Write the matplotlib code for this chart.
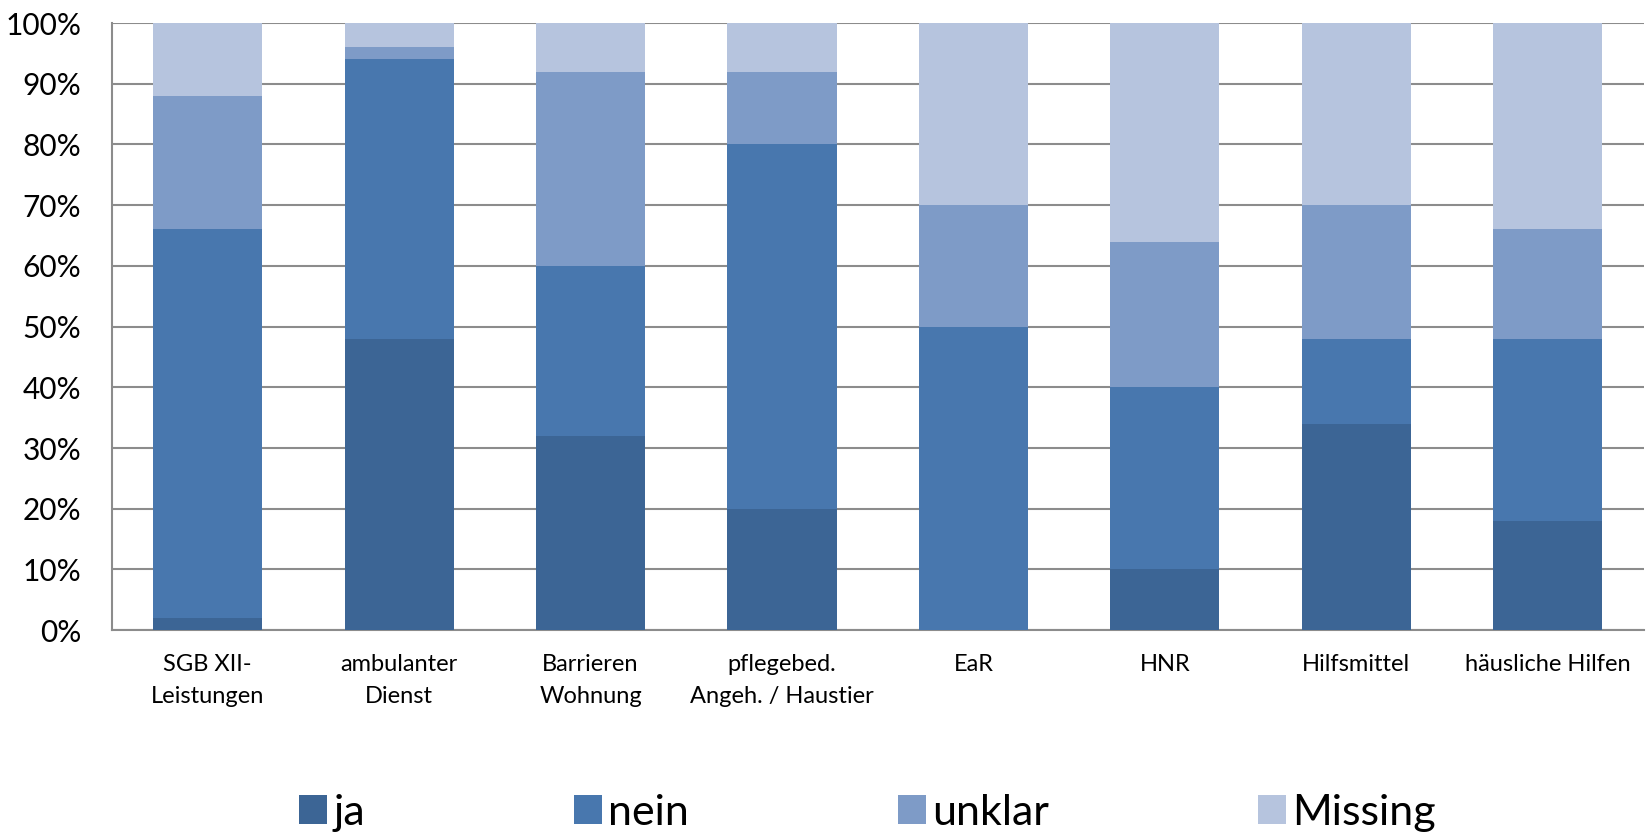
import numpy as np
from matplotlib import pyplot as plt
from matplotlib.patches import Patch
from matplotlib.ticker import PercentFormatter

plt.rcParams['font.family'] = ['Lato', 'DejaVu Sans']

categories = ['SGB XII-\nLeistungen', 'ambulanter\nDienst', 'Barrieren\nWohnung',
              'pflegebed.\nAngeh. / Haustier', 'EaR', 'HNR', 'Hilfsmittel',
              'häusliche Hilfen']
ja = [2, 48, 32, 20, 0, 10, 34, 18]
nein = [64, 46, 28, 60, 50, 30, 14, 30]
unklar = [22, 2, 32, 12, 20, 24, 22, 18]
missing = [12, 4, 8, 8, 30, 36, 30, 34]

series = [('ja', ja, '#3c6595'), ('nein', nein, '#4877ae'),
          ('unklar', unklar, '#7e9bc7'), ('Missing', missing, '#b6c4de')]

fig = plt.figure(figsize=(16.46, 8.38), dpi=100)
ax = fig.add_axes([0.068, 0.248, 0.9305, 0.7245])

x = np.arange(len(categories))
bottom = np.zeros(len(categories))
handles = []
for name, vals, col in series:
    ax.bar(x, vals, width=0.57, bottom=bottom, color=col, zorder=3)
    bottom += np.array(vals)
    handles.append(Patch(facecolor=col, label=name))

ax.set_xlim(-0.5, len(categories) - 0.5)
ax.set_ylim(0, 100)
ax.set_yticks(range(0, 101, 10))
ax.yaxis.set_major_formatter(PercentFormatter(decimals=0))
ax.grid(axis='y', color='#8c8c8c', linewidth=1.5, zorder=0)
ax.set_xticks(x)
ax.set_xticklabels(categories, fontsize=17, linespacing=1.65)
ax.tick_params(axis='y', length=0, pad=22, labelsize=21.5)
ax.tick_params(axis='x', length=0, pad=17)
for s in ['top', 'right']:
    ax.spines[s].set_visible(False)
for s in ['left', 'bottom']:
    ax.spines[s].set_color('#8c8c8c')
    ax.spines[s].set_linewidth(1.5)

fig.legend(handles=handles, loc='center', bbox_to_anchor=(0.527, 0.03), ncol=4,
           frameon=False, fontsize=31, handlelength=0.65, handleheight=0.65,
           handletextpad=0.15, columnspacing=4.85)

plt.savefig('out.png')
